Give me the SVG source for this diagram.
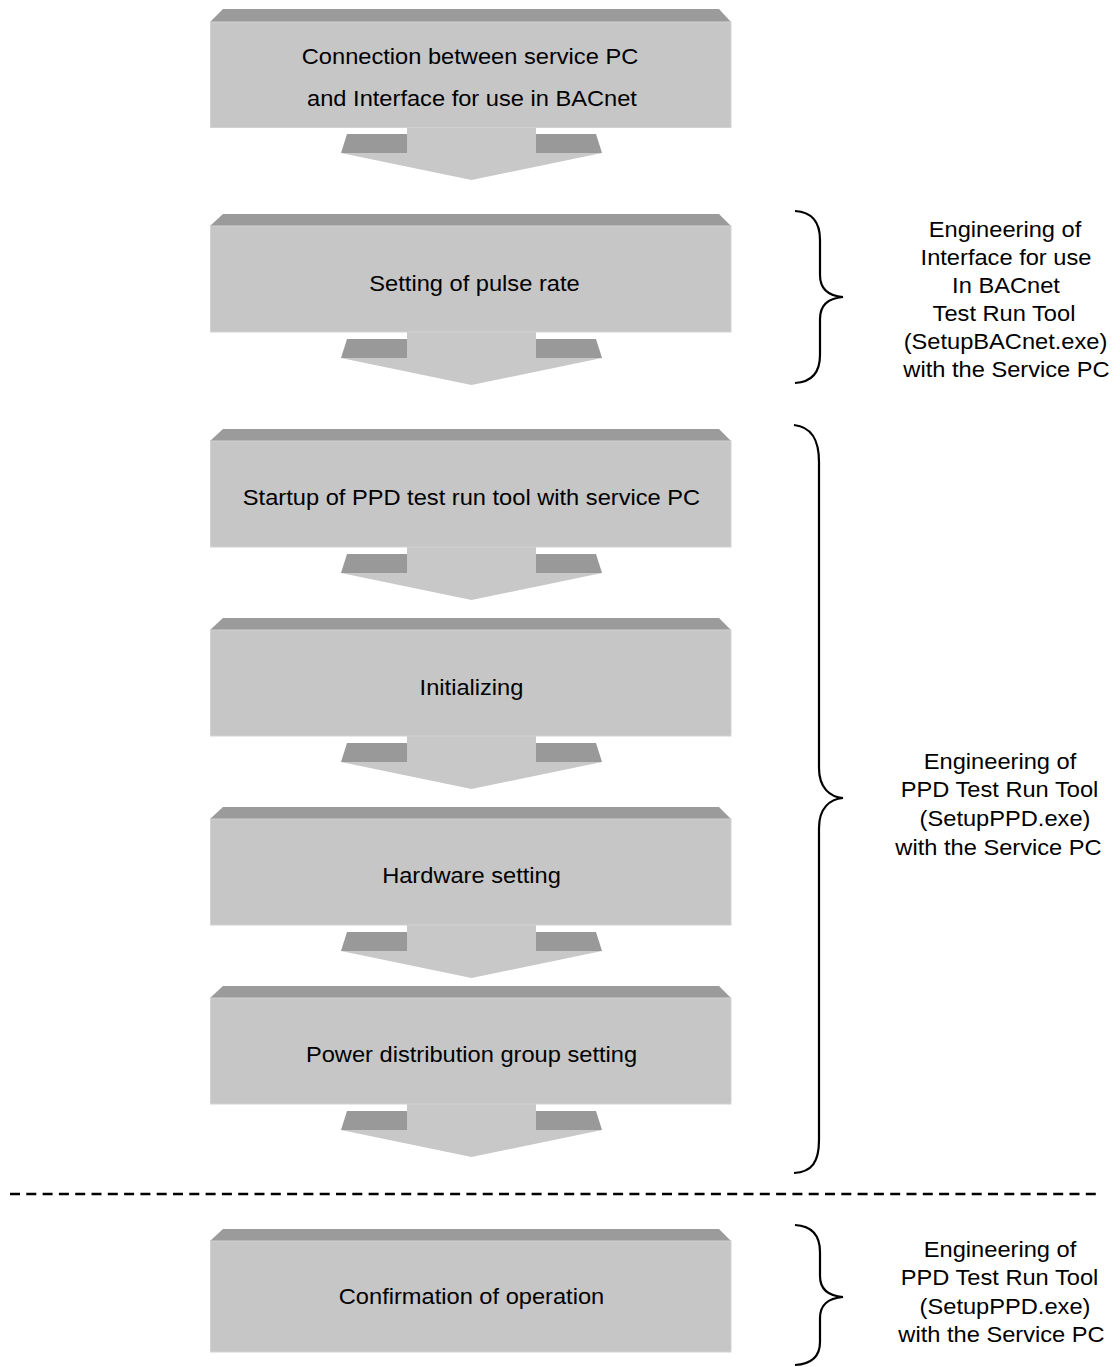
<svg xmlns="http://www.w3.org/2000/svg" xmlns:xlink="http://www.w3.org/1999/xlink" width="1120" height="1367" viewBox="0 0 1120 1367">
<style>
.bevel{fill:#9b9b9b}
.face{fill:#c6c6c6;stroke:#d2d2d2;stroke-width:1}
.shoulder{fill:#999999}
.head{fill:#c8c8c8}
.lbl{font-family:"Liberation Sans",Arial,sans-serif;font-size:21.5px;fill:#000;text-anchor:middle}
.brace{fill:none;stroke:#000;stroke-width:2.2}
.sep{stroke:#000;stroke-width:2.6;stroke-dasharray:10 6.3}
</style>
<defs>
<g id="blockArrow">
<polygon class="shoulder" points="347,125 407,125 407,144 341,144"/>
<polygon class="shoulder" points="536,125 596,125 602,144 536,144"/>
<rect class="head" x="407" y="117" width="129" height="28"/>
<polygon class="head" points="341,144 602,144 471.5,171"/>
</g>
</defs>
<rect width="1120" height="1367" fill="#fff"/>
<g id="connectors">
<use xlink:href="#blockArrow" transform="translate(0,9)"/>
<use xlink:href="#blockArrow" transform="translate(0,214)"/>
<use xlink:href="#blockArrow" transform="translate(0,429)"/>
<use xlink:href="#blockArrow" transform="translate(0,618)"/>
<use xlink:href="#blockArrow" transform="translate(0,807)"/>
<use xlink:href="#blockArrow" transform="translate(0,986)"/>
</g>
<g id="node1">
<polygon class="bevel" points="223,9 719,9 731,22 210,22"/>
<rect class="face" x="210.5" y="22" width="520.5" height="105.5"/>
<text class="lbl" transform="translate(470,64) scale(1.1,1)">Connection between service PC</text>
<text class="lbl" transform="translate(472,106) scale(1.1,1)">and Interface for use in BACnet</text>
</g>
<g id="node2">
<polygon class="bevel" points="223,214 719,214 731,226 210,226"/>
<rect class="face" x="210.5" y="226" width="520.5" height="106"/>
<text class="lbl" transform="translate(474.5,291) scale(1.1,1)">Setting of pulse rate</text>
</g>
<g id="node3">
<polygon class="bevel" points="223,429 719,429 731,441 210,441"/>
<rect class="face" x="210.5" y="441" width="520.5" height="106"/>
<text class="lbl" transform="translate(471.5,505) scale(1.1,1)">Startup of PPD test run tool with service PC</text>
</g>
<g id="node4">
<polygon class="bevel" points="223,618 719,618 731,630 210,630"/>
<rect class="face" x="210.5" y="630" width="520.5" height="106"/>
<text class="lbl" transform="translate(471.5,695) scale(1.1,1)">Initializing</text>
</g>
<g id="node5">
<polygon class="bevel" points="223,807 719,807 731,819 210,819"/>
<rect class="face" x="210.5" y="819" width="520.5" height="106"/>
<text class="lbl" transform="translate(471.5,883) scale(1.1,1)">Hardware setting</text>
</g>
<g id="node6">
<polygon class="bevel" points="223,986 719,986 731,998 210,998"/>
<rect class="face" x="210.5" y="998" width="520.5" height="106"/>
<text class="lbl" transform="translate(471.5,1062) scale(1.1,1)">Power distribution group setting</text>
</g>
<g id="node7">
<polygon class="bevel" points="223,1229 719,1229 731,1241 210,1241"/>
<rect class="face" x="210.5" y="1241" width="520.5" height="111"/>
<text class="lbl" transform="translate(471.5,1304) scale(1.1,1)">Confirmation of operation</text>
</g>
<line id="separator" class="sep" x1="10" y1="1194" x2="1100" y2="1194"/>
<g id="group1">
<path class="brace" d="M795,211 C812,212 820,222 820,240 L820,275 C820,290 830,296 843,297 C830,298 820,304 820,319 L820,355 C820,373 812,382 795,383"/>
<text class="lbl" transform="translate(1005,237) scale(1.1,1)">Engineering of</text>
<text class="lbl" transform="translate(1006,265) scale(1.1,1)">Interface for use</text>
<text class="lbl" transform="translate(1006,293) scale(1.1,1)">In BACnet</text>
<text class="lbl" transform="translate(1004,321) scale(1.1,1)">Test Run Tool</text>
<text class="lbl" transform="translate(1005.5,349) scale(1.1,1)">(SetupBACnet.exe)</text>
<text class="lbl" transform="translate(1006.5,377) scale(1.1,1)">with the Service PC</text>
</g>
<g id="group2">
<path class="brace" d="M794,425 C812,427 819,440 819,462 L819,768 C819,788 830,797 843,798 C830,799 819,808 819,828 L819,1140 C819,1162 812,1172 794,1173"/>
<text class="lbl" transform="translate(1000,769) scale(1.1,1)">Engineering of</text>
<text class="lbl" transform="translate(999.5,797) scale(1.1,1)">PPD Test Run Tool</text>
<text class="lbl" transform="translate(1005,826) scale(1.1,1)">(SetupPPD.exe)</text>
<text class="lbl" transform="translate(998.5,855) scale(1.1,1)">with the Service PC</text>
</g>
<g id="group3">
<path class="brace" d="M795,1225 C812,1226 820,1236 820,1252 L820,1276 C820,1290 830,1296 843,1297 C830,1298 820,1304 820,1318 L820,1342 C820,1356 812,1364 795,1365"/>
<text class="lbl" transform="translate(1000,1257) scale(1.1,1)">Engineering of</text>
<text class="lbl" transform="translate(999.5,1285) scale(1.1,1)">PPD Test Run Tool</text>
<text class="lbl" transform="translate(1005,1314) scale(1.1,1)">(SetupPPD.exe)</text>
<text class="lbl" transform="translate(1001.5,1342) scale(1.1,1)">with the Service PC</text>
</g>
</svg>
